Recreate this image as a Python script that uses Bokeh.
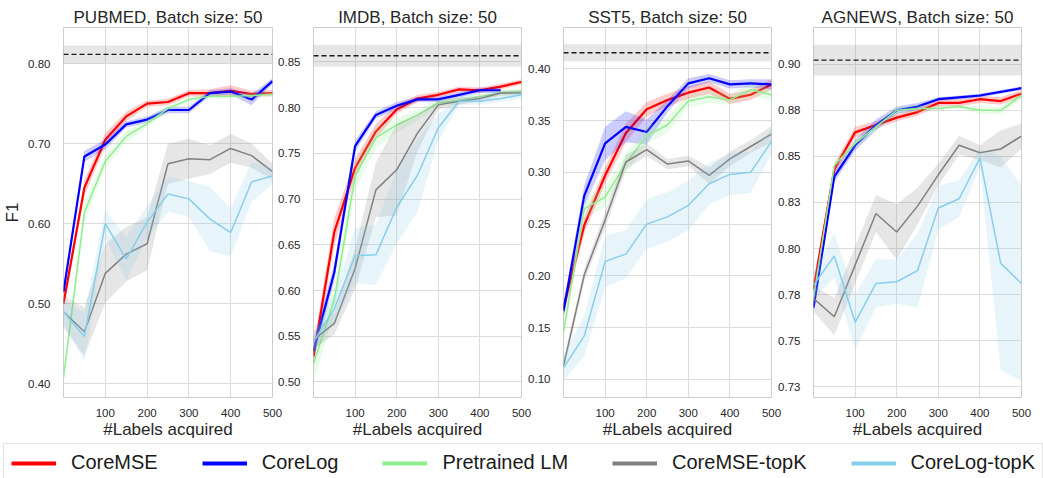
import math
from bokeh.plotting import figure
from bokeh.layouts import row, column
from bokeh.models import (Range1d, FixedTicker, CustomJSTickFormatter, Span,
                          BoxAnnotation, Legend, LegendItem)
from bokeh.embed import file_html
from bokeh.resources import INLINE

nan = float("nan")

# ---------------- data ----------------
labels_acquired = [0, 50, 100, 150, 200, 250, 300, 350, 400, 450, 500]
x_ticks = [100, 200, 300, 400, 500]

datasets = ["PUBMED", "IMDB", "SST5", "AGNEWS"]
batch_size = 50
methods = ["CoreMSE", "CoreLog", "Pretrained LM", "CoreMSE-topK", "CoreLog-topK"]
colors = ["#ff0000", "#0000ff", "#90ee90", "#808080", "#87ceeb"]
line_widths = [2.2, 2.2, 1.5, 1.5, 1.5]

# PUBMED
pubmed_coremse = [0.500, 0.645, 0.705, 0.734, 0.750, 0.752, 0.763, 0.763, 0.766, 0.762, 0.763]
pubmed_coremse_ci = [0.006, 0.010, 0.008, 0.006, 0.004, 0.004, 0.004, 0.005, 0.007, 0.004, 0.004]
pubmed_corelog = [0.515, 0.684, 0.699, 0.724, 0.730, 0.742, 0.742, 0.763, 0.765, 0.755, 0.778]
pubmed_corelog_ci = [0.006, 0.007, 0.006, 0.004, 0.004, 0.004, 0.004, 0.004, 0.004, 0.007, 0.004]
pubmed_pretrained = [0.408, 0.614, 0.678, 0.709, 0.725, 0.744, 0.755, 0.759, 0.759, 0.760, 0.762]
pubmed_pretrained_ci = [0.010, 0.012, 0.008, 0.007, 0.005, 0.004, 0.003, 0.003, 0.003, 0.003, 0.003]
pubmed_coremse_topk = [0.490, 0.465, 0.538, 0.562, 0.575, 0.675, 0.681, 0.680, 0.694, 0.685, 0.665]
pubmed_coremse_topk_ci = [0.020, 0.030, 0.037, 0.034, 0.033, 0.025, 0.025, 0.018, 0.018, 0.015, 0.010]
pubmed_corelog_topk = [0.490, 0.459, 0.600, 0.556, 0.602, 0.637, 0.631, 0.606, 0.589, 0.652, 0.660]
pubmed_corelog_topk_ci = [0.015, 0.030, 0.018, 0.027, 0.020, 0.022, 0.022, 0.040, 0.030, 0.025, 0.010]

# IMDB
imdb_coremse = [0.528, 0.664, 0.734, 0.774, 0.798, 0.810, 0.814, 0.820, 0.819, 0.823, 0.828]
imdb_coremse_ci = [0.012, 0.015, 0.010, 0.008, 0.005, 0.004, 0.003, 0.003, 0.003, 0.003, 0.003]
imdb_corelog = [0.534, 0.620, 0.758, 0.792, 0.802, 0.809, 0.809, 0.814, 0.819, 0.819, nan]
imdb_corelog_ci = [0.010, 0.010, 0.006, 0.004, 0.004, 0.003, 0.003, 0.003, 0.003, 0.003, nan]
imdb_pretrained = [0.520, 0.590, 0.725, 0.767, 0.781, 0.792, 0.805, 0.808, 0.812, 0.816, 0.818]
imdb_pretrained_ci = [0.020, 0.015, 0.015, 0.012, 0.008, 0.006, 0.004, 0.004, 0.003, 0.003, 0.003]
imdb_coremse_topk = [0.546, 0.564, 0.624, 0.710, 0.732, 0.772, 0.803, 0.807, 0.810, 0.816, 0.816]
imdb_coremse_topk_ci = [0.010, 0.012, 0.022, 0.030, 0.050, 0.020, 0.005, 0.004, 0.003, 0.003, 0.003]
imdb_corelog_topk = [0.544, 0.580, 0.638, 0.639, 0.691, 0.726, 0.778, 0.807, 0.807, 0.810, 0.814]
imdb_corelog_topk_ci = [0.010, 0.015, 0.030, 0.033, 0.040, 0.040, 0.015, 0.004, 0.004, 0.004, 0.004]

# SST5
sst5_coremse = [0.169, 0.249, 0.297, 0.338, 0.361, 0.370, 0.377, 0.382, 0.371, 0.375, 0.385]
sst5_coremse_ci = [0.008, 0.008, 0.008, 0.009, 0.007, 0.006, 0.006, 0.006, 0.005, 0.005, 0.005]
sst5_corelog = [0.166, 0.2775, 0.328, 0.344, 0.339, 0.364, 0.386, 0.391, 0.385, 0.386, 0.385]
sst5_corelog_ci = [0.008, 0.010, 0.016, 0.015, 0.012, 0.006, 0.005, 0.004, 0.004, 0.004, 0.005]
sst5_pretrained = [0.146, 0.265, 0.276, 0.309, 0.335, 0.346, 0.369, 0.373, 0.370, 0.380, 0.375]
sst5_pretrained_ci = [0.010, 0.010, 0.010, 0.010, 0.008, 0.008, 0.006, 0.006, 0.005, 0.006, 0.006]
sst5_coremse_topk = [0.113, 0.201, 0.254, 0.310, 0.322, 0.308, 0.311, 0.297, 0.313, 0.325, 0.337]
sst5_coremse_topk_ci = [0.006, 0.006, 0.008, 0.007, 0.006, 0.005, 0.005, 0.008, 0.007, 0.006, 0.008]
sst5_corelog_topk = [0.111, 0.142, 0.214, 0.221, 0.250, 0.257, 0.268, 0.289, 0.298, 0.300, 0.330]
sst5_corelog_topk_ci = [0.012, 0.020, 0.025, 0.023, 0.024, 0.024, 0.024, 0.020, 0.020, 0.020, 0.012]

# AGNEWS
agnews_coremse = [0.778, 0.843, 0.863, 0.867, 0.871, 0.874, 0.879, 0.879, 0.881, 0.880, 0.884]
agnews_coremse_ci = [0.003, 0.003, 0.003, 0.002, 0.002, 0.002, 0.002, 0.002, 0.002, 0.002, 0.002]
agnews_corelog = [0.768, 0.839, 0.856, 0.867, 0.875, 0.877, 0.881, 0.882, 0.883, 0.885, 0.887]
agnews_corelog_ci = [0.004, 0.003, 0.003, 0.003, 0.002, 0.002, 0.001, 0.001, 0.001, 0.001, 0.001]
agnews_pretrained = [0.773, 0.845, 0.857, 0.866, 0.875, 0.876, 0.876, 0.877, 0.875, 0.875, 0.883]
agnews_pretrained_ci = [0.003, 0.002, 0.002, 0.002, 0.002, 0.002, 0.001, 0.001, 0.002, 0.002, 0.002]
agnews_coremse_topk = [0.773, 0.763, 0.791, 0.819, 0.809, 0.823, 0.840, 0.856, 0.852, 0.854, 0.861]
agnews_coremse_topk_ci = [0.007, 0.010, 0.010, 0.010, 0.015, 0.010, 0.006, 0.005, 0.004, 0.010, 0.007]
agnews_corelog_topk = [0.780, 0.796, 0.760, 0.781, 0.782, 0.788, 0.822, 0.827, 0.849, 0.792, 0.781]
agnews_corelog_topk_ci = [0.007, 0.012, 0.015, 0.013, 0.012, 0.020, 0.012, 0.010, 0.005, 0.058, 0.053]

# fully supervised reference (mean, half-width of band)
full_f1 = [0.8115, 0.8567, 0.4156, 0.9022]
full_f1_ci = [0.011, 0.012, 0.0083, 0.0084]

# y tick values and labels per panel
pubmed_yticks = [0.40, 0.50, 0.60, 0.70, 0.80]
pubmed_ylabels = ["0.40", "0.50", "0.60", "0.70", "0.80"]
imdb_yticks = [0.50, 0.55, 0.60, 0.65, 0.70, 0.75, 0.80, 0.85]
imdb_ylabels = ["0.50", "0.55", "0.60", "0.65", "0.70", "0.75", "0.80", "0.85"]
sst5_yticks = [0.10, 0.15, 0.20, 0.25, 0.30, 0.35, 0.40]
sst5_ylabels = ["0.10", "0.15", "0.20", "0.25", "0.30", "0.35", "0.40"]
agnews_yticks = [0.725, 0.75, 0.775, 0.80, 0.825, 0.85, 0.875, 0.90]
agnews_ylabels = ["0.73", "0.75", "0.78", "0.80", "0.83", "0.85", "0.88", "0.90"]

panel_series = [
    [(pubmed_coremse, pubmed_coremse_ci), (pubmed_corelog, pubmed_corelog_ci),
     (pubmed_pretrained, pubmed_pretrained_ci), (pubmed_coremse_topk, pubmed_coremse_topk_ci),
     (pubmed_corelog_topk, pubmed_corelog_topk_ci)],
    [(imdb_coremse, imdb_coremse_ci), (imdb_corelog, imdb_corelog_ci),
     (imdb_pretrained, imdb_pretrained_ci), (imdb_coremse_topk, imdb_coremse_topk_ci),
     (imdb_corelog_topk, imdb_corelog_topk_ci)],
    [(sst5_coremse, sst5_coremse_ci), (sst5_corelog, sst5_corelog_ci),
     (sst5_pretrained, sst5_pretrained_ci), (sst5_coremse_topk, sst5_coremse_topk_ci),
     (sst5_corelog_topk, sst5_corelog_topk_ci)],
    [(agnews_coremse, agnews_coremse_ci), (agnews_corelog, agnews_corelog_ci),
     (agnews_pretrained, agnews_pretrained_ci), (agnews_coremse_topk, agnews_coremse_topk_ci),
     (agnews_corelog_topk, agnews_corelog_topk_ci)],
]
panel_yticks = [(pubmed_yticks, pubmed_ylabels), (imdb_yticks, imdb_ylabels),
                (sst5_yticks, sst5_ylabels), (agnews_yticks, agnews_ylabels)]

# ---------------- layout / style ----------------
y_ranges = [(0.383, 0.845), (0.483, 0.8876), (0.0824, 0.440), (0.7192, 0.9199)]
left_borders = [63, 41, 42, 42]
right_borders = [14, 14, 14, 22]
frame_widths = [209, 208, 208, 208]
OVERLAP = 14
TOP = 27
BOTTOM = 41
FRAME_H = 373
HEIGHT = TOP + FRAME_H + BOTTOM
FONT = "Liberation Sans"
TXT = "#262626"

tick_code = """
for (let i = 0; i < tvals.length; i++) {
  if (Math.abs(tvals[i] - tick) < 1e-9) { return tlabels[i]; }
}
return tick.toFixed(2);
"""

figs = []
for k, name in enumerate(datasets):
    p = figure(width=left_borders[k] + frame_widths[k] + right_borders[k], height=HEIGHT,
               x_range=Range1d(0, 500), y_range=Range1d(*y_ranges[k]),
               output_backend="svg", toolbar_location=None,
               min_border_left=left_borders[k], min_border_right=right_borders[k],
               min_border_top=TOP, min_border_bottom=BOTTOM)
    p.title.text = f"{name}, Batch size: {batch_size}"
    p.title.align = "center"
    p.title.text_font = FONT
    p.title.text_font_size = "17px"
    p.title.text_font_style = "normal"
    p.title.text_color = TXT
    p.title.standoff = 1
    p.background_fill_color = "white"
    p.border_fill_color = None
    if k > 0:
        p.margin = (0, 0, 0, -OVERLAP)
    p.outline_line_color = "#cccccc"
    p.outline_line_width = 1

    yt, yl = panel_yticks[k]
    p.xaxis.ticker = FixedTicker(ticks=x_ticks)
    p.yaxis.ticker = FixedTicker(ticks=yt)
    p.yaxis.formatter = CustomJSTickFormatter(args=dict(tvals=yt, tlabels=yl), code=tick_code)
    for ax in (p.xaxis[0], p.yaxis[0]):
        ax.axis_line_color = None
        ax.major_tick_line_color = None
        ax.minor_tick_line_color = None
        ax.major_label_text_font = FONT
        ax.major_label_text_font_size = "11.5px"
        ax.major_label_text_color = TXT
        ax.axis_label_text_font = FONT
        ax.axis_label_text_font_size = "17px"
        ax.axis_label_text_font_style = "normal"
        ax.axis_label_text_color = TXT
    p.xaxis.major_label_standoff = 5
    p.xaxis.axis_label = "#Labels acquired"
    p.xaxis.axis_label_standoff = 0
    p.yaxis.major_label_standoff = 7
    if k == 0:
        p.yaxis.axis_label = "F1"
        p.yaxis.axis_label_standoff = 3
    p.grid.grid_line_color = "#dcdcdc"
    p.grid.grid_line_width = 1
    p.xgrid.ticker = FixedTicker(ticks=x_ticks)
    p.ygrid.ticker = FixedTicker(ticks=yt)

    # fully supervised band + dashed line
    p.add_layout(BoxAnnotation(bottom=full_f1[k] - full_f1_ci[k], top=full_f1[k] + full_f1_ci[k],
                               fill_color="#808080", fill_alpha=0.2, line_color=None, level="underlay"))
    p.add_layout(Span(location=full_f1[k], dimension="width", line_color="#1a1a1a",
                      line_dash="5 3", line_width=1.3))

    for j, (vals, ci) in enumerate(panel_series[k]):
        lo = [v - c for v, c in zip(vals, ci)]
        hi = [v + c for v, c in zip(vals, ci)]
        xs = [x for x, v in zip(labels_acquired, vals) if not math.isnan(v)]
        lo_f = [a for a, v in zip(lo, vals) if not math.isnan(v)]
        hi_f = [a for a, v in zip(hi, vals) if not math.isnan(v)]
        ys = [v for v in vals if not math.isnan(v)]
        p.varea(x=xs, y1=lo_f, y2=hi_f, fill_color=colors[j], fill_alpha=0.2)
        p.line(xs, ys, line_color=colors[j], line_width=line_widths[j])
    figs.append(p)

# legend strip (dummy renderers sit outside the visible range)
LH = 478 - HEIGHT
lf = figure(width=1043, height=LH, x_range=Range1d(0, 1), y_range=Range1d(0, 1),
            x_axis_type=None, y_axis_type=None, output_backend="svg", toolbar_location=None,
            min_border=0, outline_line_color=None)
lf.grid.visible = False
items = []
for name, c in zip(methods, colors):
    r = lf.line(x=[5, 6], y=[5, 6], line_color=c, line_width=4)
    items.append(LegendItem(label=name, renderers=[r]))
LEG_H = 37
legend = Legend(items=items, orientation="horizontal", location=(3, LH - 4 - LEG_H),
                glyph_width=45, glyph_height=20, label_height=20, label_standoff=15,
                spacing=44, padding=7, margin=0,
                label_text_font=FONT, label_text_font_size="20px", label_text_color="#1a1a1a",
                border_line_color="#cccccc", border_line_width=1,
                background_fill_color="white", background_fill_alpha=1)
lf.add_layout(legend, "center")

layout = column(row(*figs, spacing=0), lf, spacing=0)
open("out.html", "w").write(file_html(layout, INLINE))
